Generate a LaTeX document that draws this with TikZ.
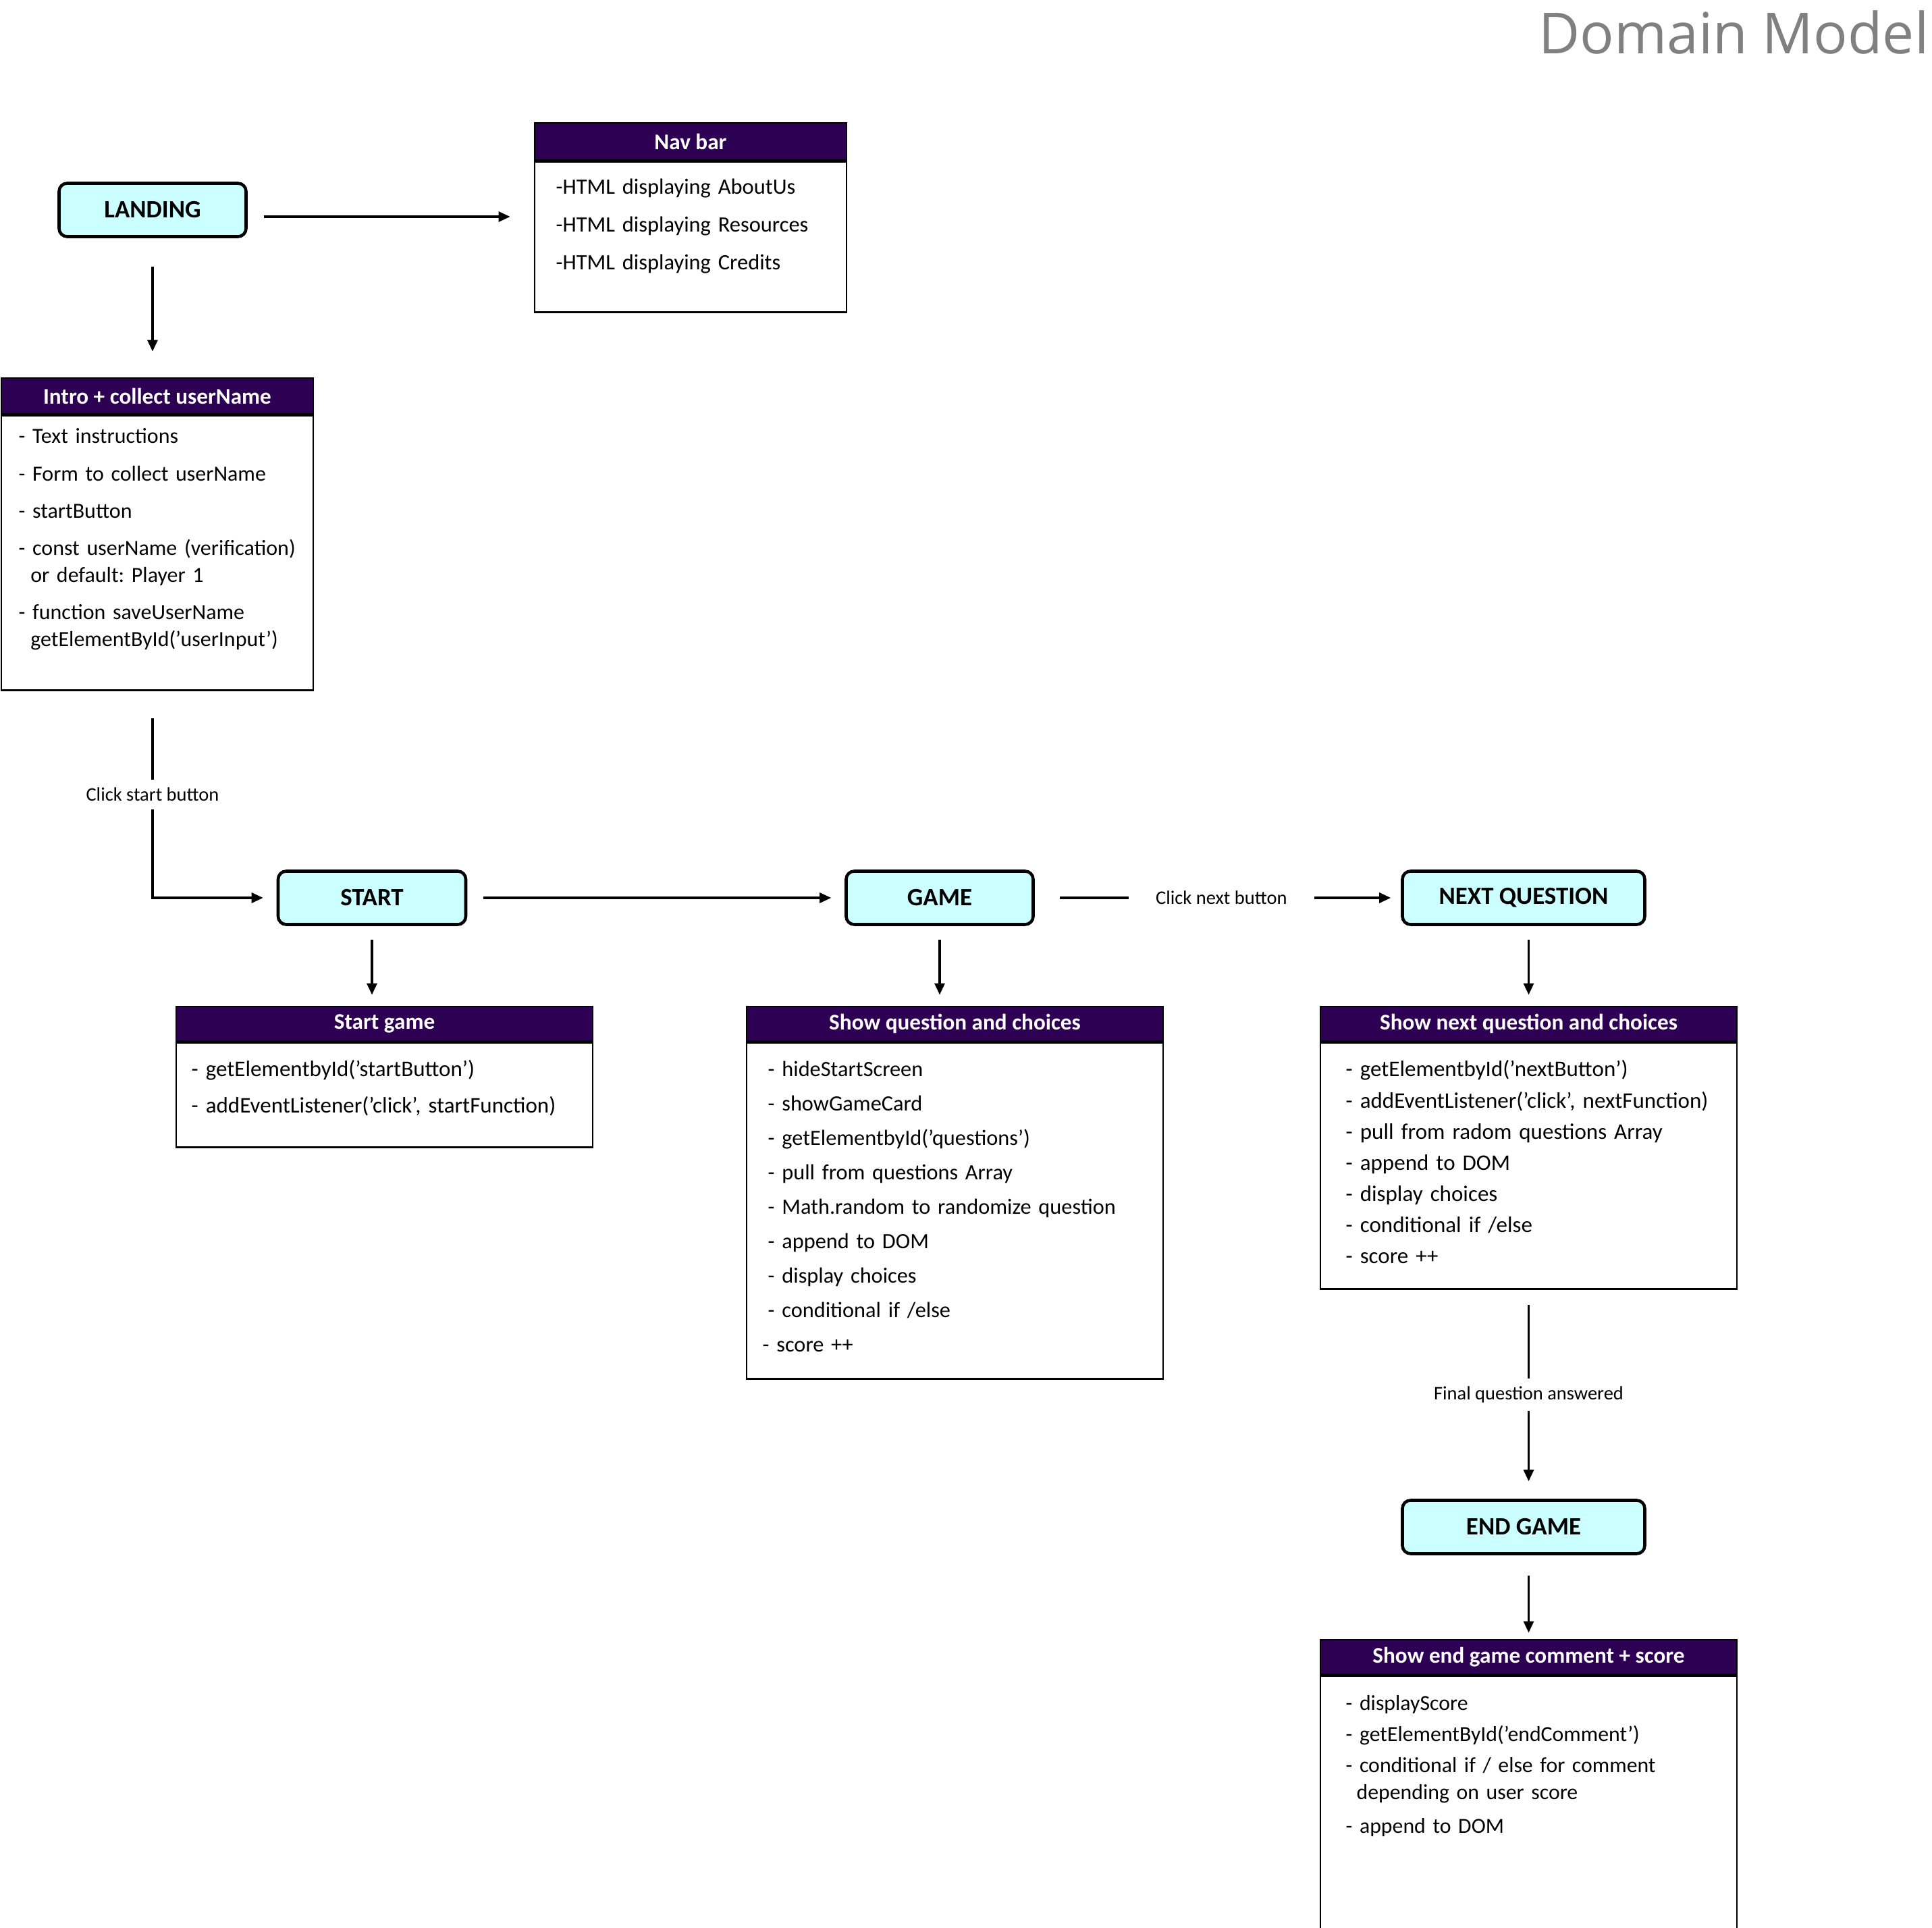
\documentclass[tikz,border=0pt]{standalone}
\usepackage{fontspec}
\setmainfont{Carlito}
\newfontfamily\titlefont{Open Sans}
\usetikzlibrary{positioning,arrows.meta}
\definecolor{headpurple}{HTML}{2E0054}
\definecolor{stateblue}{HTML}{CCFFFF}
\definecolor{titlegray}{HTML}{808080}
\frenchspacing

\begin{document}
\begin{tikzpicture}[
    state/.style={rectangle, draw, line width=1.3pt, fill=stateblue, rounded corners=0.12cm, minimum height=0.79cm, font=\fontsize{10.5}{12}\selectfont\bfseries},
    head/.style={rectangle, draw, line width=0.8pt, fill=headpurple, text=white, minimum height=0.53cm, inner sep=0pt, font=\fontsize{9.45}{11}\selectfont\bfseries},
    body/.style={rectangle, draw, line width=0.8pt, fill=white, inner sep=0pt, anchor=north},
    items/.style={anchor=base west, inner sep=0pt, text width=7cm, align=left},
    arrow/.style={-{Triangle[length=0.17cm, width=0.15cm]}, line width=0.9pt},
    label/.style={font=\fontsize{8.1}{9}\selectfont, fill=white, inner sep=0.12cm}
]
    \useasboundingbox (0,0) rectangle (28.62,-28.56);

% -------------------------
% Title
% -------------------------
    \node[anchor=base east, inner sep=0pt, text=titlegray, font=\titlefont\fontsize{23.9}{28}\selectfont] (title) at (28.58,-0.80) {Domain Model};

% -------------------------
% States
% -------------------------
    \node[state, minimum width=2.77cm] (landing) at (2.26,-3.11) {LANDING};
    \node[state, minimum width=2.78cm] (start) at (5.51,-13.30) {START};
    \node[state, minimum width=2.77cm] (game) at (13.92,-13.30) {GAME};
    \node[state, minimum width=3.59cm] (next) at (22.57,-13.30) {NEXT QUESTION};
    \node[state, minimum width=3.59cm] (endgame) at (22.57,-22.62) {END GAME};

% -------------------------
% Nav bar
% -------------------------
    \node[head, minimum width=4.62cm, minimum height=0.55cm] (navhead) at (10.23,-2.095) {Nav bar};
    \node[body, minimum width=4.62cm, minimum height=2.23cm] (navbody) at (navhead.south) {};
    \node[items, font=\fontsize{9.24}{15.9}\selectfont] (navtext) at (8.23,-2.88) {%
        -HTML displaying AboutUs\\
        -HTML displaying Resources\\
        -HTML displaying Credits};

% -------------------------
% Intro + collect userName
% -------------------------
    \node[head, minimum width=4.62cm] (introhead) at (2.33,-5.865) {Intro + collect userName};
    \node[body, minimum width=4.62cm, minimum height=4.07cm] (introbody) at (introhead.south) {};
    \node[items, font=\fontsize{9.1}{11.4}\selectfont] (introtext) at (0.27,-6.57) {%
        - Text instructions\\[4.3pt]
        - Form to collect userName\\[4.3pt]
        - startButton\\[4.3pt]
        - const userName (verification)\\
        \hspace*{0.55em}or default: Player 1\\[4.3pt]
        - function saveUserName\\
        \hspace*{0.55em}getElementById(’userInput’)};

% -------------------------
% Start game
% -------------------------
    \node[head, minimum width=6.17cm, minimum height=0.51cm] (starthead) at (5.695,-15.165) {Start game};
    \node[body, minimum width=6.17cm, minimum height=1.55cm] (startbody) at (starthead.south) {};
    \node[items, font=\fontsize{9.4}{15.1}\selectfont] (starttext) at (2.83,-15.95) {%
        - getElementbyId(’startButton’)\\
        - addEventListener(’click’, startFunction)};

% -------------------------
% Show question and choices
% -------------------------
    \node[head, minimum width=6.17cm, minimum height=0.51cm] (questionhead) at (14.145,-15.165) {Show question and choices};
    \node[body, minimum width=6.17cm, minimum height=4.98cm] (questionbody) at (questionhead.south) {};
    \node[items, font=\fontsize{9.2}{14.5}\selectfont] (questiontext) at (11.37,-15.95) {%
        - hideStartScreen\\
        - showGameCard\\
        - getElementbyId(’questions’)\\
        - pull from questions Array\\
        - Math.random to randomize question\\
        - append to DOM\\
        - display choices\\
        - conditional if /else\\
        \hspace*{-0.08cm}- score ++};

% -------------------------
% Show next question and choices
% -------------------------
    \node[head, minimum width=6.17cm, minimum height=0.51cm] (nexthead) at (22.645,-15.165) {Show next question and choices};
    \node[body, minimum width=6.17cm, minimum height=3.65cm] (nextbody) at (nexthead.south) {};
    \node[items, font=\fontsize{9.4}{13.1}\selectfont] (nexttext) at (19.93,-15.95) {%
        - getElementbyId(’nextButton’)\\
        - addEventListener(’click’, nextFunction)\\
        - pull from radom questions Array\\
        - append to DOM\\
        - display choices\\
        - conditional if /else\\
        - score ++};

% -------------------------
% Show end game comment + score
% -------------------------
    \node[head, minimum width=6.17cm, minimum height=0.51cm] (endhead) at (22.645,-24.545) {Show end game comment + score};
    \node[body, minimum width=6.17cm, minimum height=3.75cm] (endbody) at (endhead.south) {};
    \node[items, font=\fontsize{9.05}{11.4}\selectfont] (endtext) at (19.93,-25.33) {%
        - displayScore\\[1.7pt]
        - getElementById(’endComment’)\\[1.7pt]
        - conditional if / else for comment\\
        \hspace*{0.5em}depending on user score\\[2.8pt]
        - append to DOM};

% -------------------------
% Arrows & Routing
% -------------------------
    \draw[arrow, shorten <=0.24cm, shorten >=0.35cm] ([yshift=-0.1cm]landing.east) -- ([yshift=-0.1cm]landing.east -| navbody.west);
    \draw[arrow, shorten <=0.42cm, shorten >=0.38cm] (landing.south) -- (landing.south |- introhead.north);

    % start button path with label breaking the line
    \draw[arrow, shorten <=0.40cm, shorten >=0.20cm] (landing.south |- introbody.south) -- node[label, pos=0.5] {Click start button} (landing.south |- start.west) -- (start.west);

    \draw[arrow, shorten <=0.24cm, shorten >=0.20cm] (start) -- (game);
    \draw[arrow, shorten <=0.37cm, shorten >=0.15cm] (game) -- node[label, inner xsep=0.4cm, pos=0.51] {Click next button} (next);

    % down to the detail boxes
    \draw[arrow, shorten <=0.20cm, shorten >=0.16cm] (start.south) -- (start.south |- starthead.north);
    \draw[arrow, shorten <=0.20cm, shorten >=0.16cm] (game.south) -- (game.south |- questionhead.north);
    \draw[arrow, shorten <=0.20cm, shorten >=0.16cm] (nexthead.north |- next.south) -- (nexthead.north);

    \draw[arrow, shorten <=0.22cm, shorten >=0.26cm] (nextbody.south) -- node[label, pos=0.5] {Final question answered} (nextbody.south |- endgame.north);
    \draw[arrow, shorten <=0.30cm, shorten >=0.09cm] (endhead.north |- endgame.south) -- (endhead.north);
\end{tikzpicture}
\end{document}
